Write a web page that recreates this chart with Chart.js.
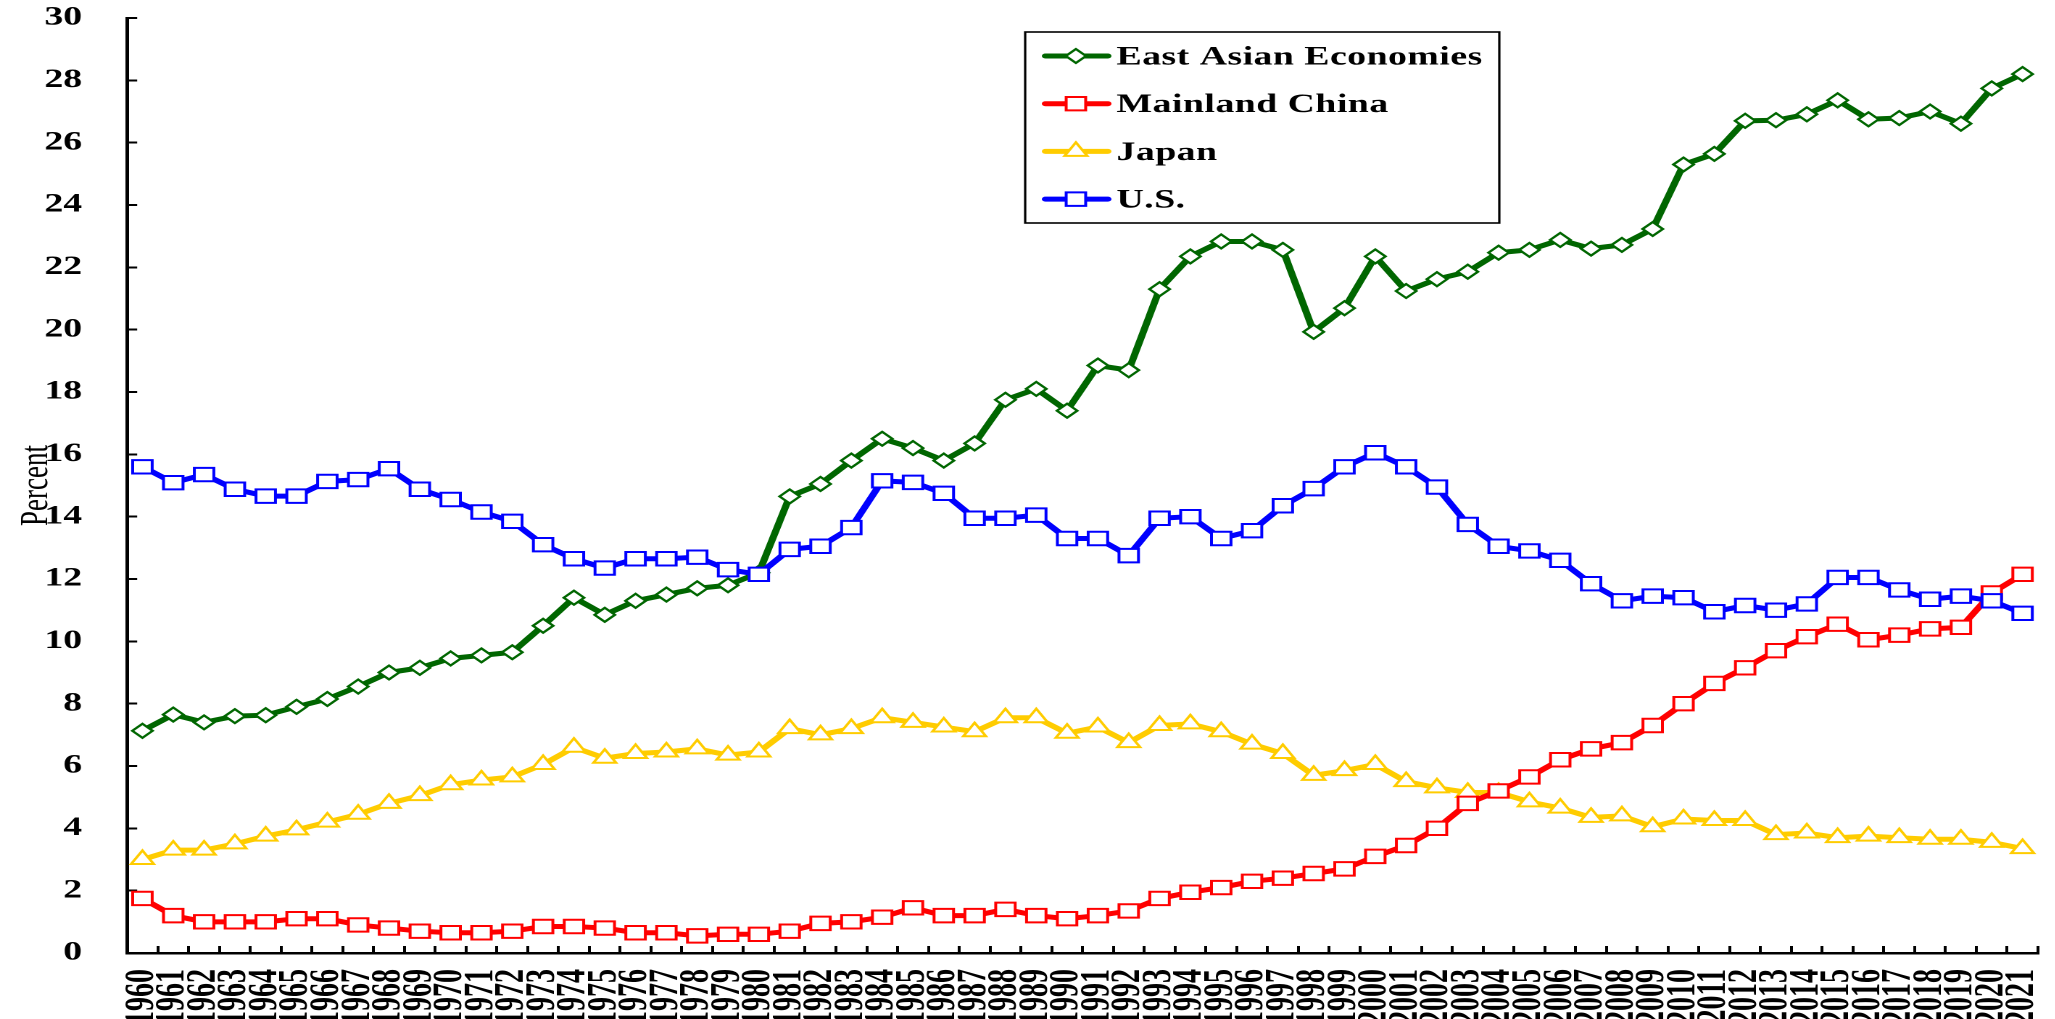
<!DOCTYPE html>
<html>
<head>
<meta charset="utf-8">
<script src="https://cdn.jsdelivr.net/npm/chart.js@4.4.1/dist/chart.umd.min.js"></script>
<style>
    html, body { margin: 0; padding: 0; background: #fff; overflow: hidden; }
    /* the reference is stretched sideways, so the chart is drawn narrow and scaled out */
    #wrap { width: 1417px; height: 1019px; transform: scaleX(1.45); transform-origin: 0 0; }
</style>
</head>
<body>
<div id="wrap"><canvas id="shareChart"></canvas></div>
<script>
const years = ['1960','1961','1962','1963','1964','1965','1966','1967','1968','1969',
    '1970','1971','1972','1973','1974','1975','1976','1977','1978','1979',
    '1980','1981','1982','1983','1984','1985','1986','1987','1988','1989',
    '1990','1991','1992','1993','1994','1995','1996','1997','1998','1999',
    '2000','2001','2002','2003','2004','2005','2006','2007','2008','2009',
    '2010','2011','2012','2013','2014','2015','2016','2017','2018','2019',
    '2020','2021'];

const eastAsia = [7.13, 7.65, 7.4, 7.6, 7.63, 7.9, 8.15, 8.55, 9.0, 9.15,
    9.45, 9.55, 9.65, 10.5, 11.4, 10.85, 11.3, 11.5, 11.7, 11.8,
    12.2, 14.65, 15.05, 15.8, 16.5, 16.2, 15.8, 16.35, 17.75, 18.1,
    17.4, 18.85, 18.7, 21.3, 22.35, 22.83, 22.83, 22.56, 19.93, 20.69,
    22.35, 21.24, 21.62, 21.86, 22.47, 22.56, 22.88, 22.6, 22.72, 23.23,
    25.3, 25.64, 26.7, 26.72, 26.91, 27.36, 26.75, 26.79, 27.0, 26.61,
    27.74, 28.2];

const china = [1.75, 1.2, 1.0, 1.0, 1.0, 1.1, 1.1, 0.9, 0.8, 0.7,
    0.65, 0.65, 0.7, 0.85, 0.85, 0.8, 0.65, 0.65, 0.55, 0.6,
    0.6, 0.7, 0.95, 1.0, 1.15, 1.45, 1.2, 1.2, 1.4, 1.2,
    1.1, 1.2, 1.35, 1.75, 1.95, 2.1, 2.3, 2.4, 2.55, 2.7,
    3.1, 3.45, 4.0, 4.8, 5.2, 5.65, 6.2, 6.55, 6.75, 7.3,
    8.0, 8.65, 9.15, 9.7, 10.15, 10.55, 10.05, 10.2, 10.4, 10.45,
    11.55, 12.15];

const japan = [3.0, 3.3, 3.3, 3.5, 3.75, 3.95, 4.2, 4.45, 4.8, 5.05,
    5.4, 5.55, 5.65, 6.05, 6.6, 6.25, 6.4, 6.45, 6.55, 6.35,
    6.45, 7.2, 7.0, 7.2, 7.55, 7.4, 7.25, 7.1, 7.55, 7.55,
    7.05, 7.25, 6.75, 7.3, 7.35, 7.1, 6.7, 6.4, 5.7, 5.85,
    6.05, 5.5, 5.3, 5.15, 5.15, 4.85, 4.65, 4.35, 4.4, 4.05,
    4.3, 4.25, 4.25, 3.8, 3.85, 3.7, 3.75, 3.7, 3.65, 3.65,
    3.55, 3.35];

const usa = [15.6, 15.09, 15.35, 14.88, 14.66, 14.66, 15.13, 15.19, 15.54, 14.88,
    14.55, 14.15, 13.85, 13.1, 12.65, 12.35, 12.65, 12.65, 12.7, 12.3,
    12.15, 12.95, 13.05, 13.65, 15.15, 15.1, 14.75, 13.95, 13.95, 14.05,
    13.3, 13.3, 12.75, 13.95, 14.0, 13.3, 13.55, 14.35, 14.9, 15.6,
    16.05, 15.6, 14.95, 13.75, 13.05, 12.9, 12.6, 11.85, 11.3, 11.45,
    11.4, 10.95, 11.15, 11.0, 11.2, 12.05, 12.05, 11.65, 11.35, 11.45,
    11.3, 10.9];

const seriesNames = ['East Asian Economies', 'Mainland China', 'Japan', 'U.S.'];
const seriesColors = ['#006600', '#FF0000', '#FFCC00', '#0000FF'];

const FONT = "'Liberation Serif', 'Times New Roman', serif";

// draw one legend marker the same way the points look
function drawMarker(ctx, style, x, y, r) {
    ctx.beginPath();
    if (style === 'rectRot') {
        ctx.moveTo(x - r, y);
        ctx.lineTo(x, y - r);
        ctx.lineTo(x + r, y);
        ctx.lineTo(x, y + r);
    } else if (style === 'triangle') {
        ctx.moveTo(x, y - r);
        ctx.lineTo(x + r * 0.866, y + r * 0.5);
        ctx.lineTo(x - r * 0.866, y + r * 0.5);
    } else {
        const s = r * Math.SQRT1_2;
        ctx.rect(x - s, y - s, 2 * s, 2 * s);
    }
    ctx.closePath();
    ctx.fill();
    ctx.stroke();
}

// boxed legend in the upper middle of the plot
const legendBox = {
    id: 'legendBox',
    afterDraw(chart) {
        const ctx = chart.ctx;
        ctx.save();
        ctx.fillStyle = '#fff';
        ctx.fillRect(707, 32, 327, 191);
        ctx.lineWidth = 1.6;
        ctx.strokeStyle = '#000';
        ctx.strokeRect(707, 32, 327, 191);

        chart.data.datasets.forEach((ds, i) => {
            const y = 56 + i * 47.7;
            ctx.strokeStyle = ds.borderColor;
            ctx.lineWidth = 5;
            ctx.lineCap = 'round';
            ctx.beginPath();
            ctx.moveTo(721, y);
            ctx.lineTo(764, y);
            ctx.stroke();

            ctx.lineWidth = 2;
            ctx.fillStyle = '#fff';
            drawMarker(ctx, ds.pointStyle, 742, y, ds.pointRadius);

            ctx.fillStyle = '#000';
            ctx.font = 'bold 26px ' + FONT;
            ctx.letterSpacing = '0.35px';
            ctx.textAlign = 'left';
            ctx.textBaseline = 'alphabetic';
            ctx.fillText(ds.label, 770, y + 8.5);
        });
        ctx.restore();
    }
};

function makeSeries(i, values, style, radius, order) {
    return {
        label: seriesNames[i],
        data: values,
        borderColor: seriesColors[i],
        backgroundColor: seriesColors[i],
        borderWidth: 5,
        tension: 0,
        pointStyle: style,
        pointRadius: radius,
        pointBorderWidth: 2,
        pointBorderColor: seriesColors[i],
        pointBackgroundColor: '#fff',
        order: order
    };
}

const ctx = document.getElementById('shareChart').getContext('2d');
const shareChart = new Chart(ctx, {
    type: 'line',
    data: {
        labels: years,
        datasets: [
            makeSeries(0, eastAsia, 'rectRot', 7, 3),
            makeSeries(1, china, 'rect', 9.5, 1),
            makeSeries(2, japan, 'triangle', 9, 2),
            makeSeries(3, usa, 'rect', 9.5, 0)
        ]
    },
    options: {
        responsive: true,
        maintainAspectRatio: false,
        animation: false,
        devicePixelRatio: 2,
        layout: { padding: { top: 18, right: 0, left: 0, bottom: 0 } },
        plugins: {
            legend: { display: false },
            tooltip: { enabled: false }
        },
        scales: {
            x: {
                type: 'category',
                offset: true,
                grid: {
                    offset: true,
                    drawOnChartArea: false,
                    drawTicks: true,
                    tickLength: -7,
                    color: '#000',
                    lineWidth: 2
                },
                border: { display: true, color: '#000', width: 2.5 },
                ticks: {
                    autoSkip: false,
                    minRotation: 90,
                    maxRotation: 90,
                    padding: 23,
                    color: '#000',
                    font: { family: FONT, size: 28, weight: 'bold' }
                },
                afterFit(scale) {
                    scale.height = 66;
                    scale.paddingLeft = 0;
                    scale.paddingRight = 0;
                }
            },
            y: {
                min: 0,
                max: 30,
                grid: {
                    drawOnChartArea: false,
                    drawTicks: true,
                    tickLength: -7,
                    color: '#000',
                    lineWidth: 2
                },
                border: { display: true, color: '#000', width: 2.5 },
                ticks: {
                    stepSize: 2,
                    padding: 38,
                    color: '#000',
                    font: { family: FONT, size: 26, weight: 'bold' }
                },
                title: {
                    display: true,
                    text: 'Percent',
                    color: '#000',
                    font: { family: FONT, size: 27 },
                    padding: { top: 9, bottom: 0 }
                },
                afterFit(scale) {
                    scale.width = 87.6;
                    scale.paddingTop = 0;
                    scale.paddingBottom = 0;
                }
            }
        }
    },
    plugins: [legendBox]
});

// the x axis should end at about 1410 (2045 once stretched); widen the box if it stops short
const gap = 1410 - shareChart.chartArea.right;
if (gap > 0.5) {
    document.getElementById('wrap').style.width = (1417 + gap) + 'px';
    shareChart.resize();
}
</script>
</body>
</html>
